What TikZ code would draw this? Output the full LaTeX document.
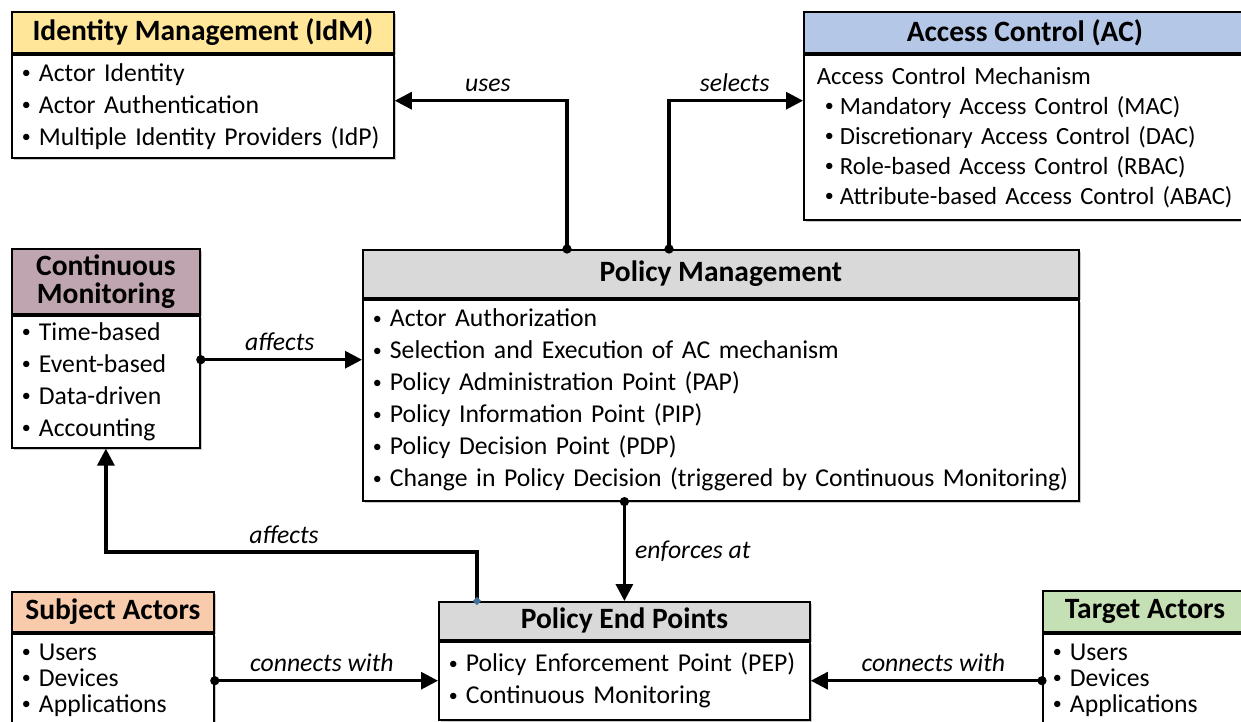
\documentclass[tikz,border=0pt]{standalone}
\usepackage{fontspec}
\setmainfont{Carlito}
\usetikzlibrary{arrows.meta,shadows,calc}

\definecolor{idmfill}{HTML}{FFE699}
\definecolor{acfill}{HTML}{B4C7E7}
\definecolor{cmfill}{HTML}{BFA5AF}
\definecolor{pmfill}{HTML}{D9D9D9}
\definecolor{safill}{HTML}{F8CBAD}
\definecolor{tafill}{HTML}{C5E0B4}
\definecolor{handle}{HTML}{41719C}

\newcommand\bodyfont{\fontsize{25.7}{32}\selectfont}
\newcommand\acfont{\fontsize{24.7}{30}\selectfont}
\newcommand\actorfont{\fontsize{25.7}{26}\selectfont}
\newcommand\titlefont{\fontsize{29.5}{28}\selectfont\bfseries}
\newcommand\smallbullet{\raisebox{2.6pt}{\fontsize{18}{18}\selectfont •}}
\newcommand\itembul[1]{\mbox{\makebox[18pt][l]{\hspace{1pt}\smallbullet}#1}}
\newcommand\acbul[1]{\mbox{\hspace*{8pt}\makebox[15pt][l]{\smallbullet}#1}}

\begin{document}
\begin{tikzpicture}[x=1pt,y=-1pt,
  boxshadow/.style={drop shadow={shadow xshift=2.5pt, shadow yshift=-2.5pt, opacity=0.35, fill=black!60}},
  boxtitle/.style={draw, line width=1.8pt, anchor=north west, inner sep=0pt,
    font=\titlefont, align=center, boxshadow},
  boxbody/.style={draw, line width=1.8pt, fill=white, anchor=north west,
    inner xsep=9pt, inner ysep=0pt, align=left, font=\bodyfont, boxshadow},
  conn/.style={line width=3.2pt, shorten <=-4.5pt,
    {Circle[length=9pt]}-{Triangle[length=17pt,width=17pt]}},
  lbl/.style={font=\bodyfont\itshape, inner sep=0pt},
]
\useasboundingbox (0,0) rectangle (1241,721);

% Identity Management
\node[boxtitle, fill=idmfill, minimum width=382pt, minimum height=41pt] (idmt) at (11,11)
  {Identity Management (IdM)};
\node[boxbody, text width=364pt, minimum height=103pt] (idmb) at (idmt.south west)
  {\itembul{Actor Identity}\\ \itembul{Actor Authentication}\\ \itembul{Multiple Identity Providers (IdP)}};

% Access Control
\node[boxtitle, fill=acfill, minimum width=442pt, minimum height=41pt] (act) at (803,11)
  {Access Control (AC)};
\node[boxbody, font=\acfont, inner xsep=13pt, text width=416pt, minimum height=165pt] (acb) at (act.south west)
  {Access Control Mechanism\\ \acbul{Mandatory Access Control (MAC)}\\ \acbul{Discretionary Access Control (DAC)}\\
   \acbul{Role-based Access Control (RBAC)}\\ \acbul{Attribute-based Access Control (ABAC)}};

% Continuous Monitoring
\node[boxtitle, fill=cmfill, minimum width=188pt, minimum height=65pt] (cmt) at (11,248)
  {Continuous\\Monitoring};
\node[boxbody, text width=170pt, minimum height=132pt] (cmb) at (cmt.south west)
  {\itembul{Time-based}\\ \itembul{Event-based}\\ \itembul{Data-driven}\\ \itembul{Accounting}};

% Policy Management
\node[boxtitle, fill=pmfill, minimum width=716pt, minimum height=48pt] (pmt) at (362,249)
  {Policy Management};
\node[boxbody, text width=698pt, minimum height=201pt] (pmb) at (pmt.south west)
  {\itembul{Actor Authorization}\\ \itembul{Selection and Execution of AC mechanism}\\
   \itembul{Policy Administration Point (PAP)}\\ \itembul{Policy Information Point (PIP)}\\
   \itembul{Policy Decision Point (PDP)}\\
   \itembul{Change in Policy Decision (triggered by Continuous Monitoring)}};

% Policy End Points
\node[boxtitle, fill=pmfill, minimum width=371pt, minimum height=38pt] (pept) at (438,601)
  {\raisebox{-2pt}{Policy End Points}};
\node[boxbody, text width=353pt, minimum height=78pt] (peb) at (pept.south west)
  {\itembul{Policy Enforcement Point (PEP)}\\ \itembul{Continuous Monitoring}};

% Subject Actors
\node[boxtitle, fill=safill, minimum width=202pt, minimum height=40pt] (sat) at (11,591)
  {Subject Actors};
\node[boxbody, font=\actorfont, text width=184pt, minimum height=93pt] (sab) at (sat.south west)
  {\itembul{Users}\\ \itembul{Devices}\\ \itembul{Applications}};

% Target Actors
\node[boxtitle, fill=tafill, minimum width=204pt, minimum height=41pt] (tat) at (1042,590)
  {Target Actors};
\node[boxbody, font=\actorfont, text width=186pt, minimum height=93pt] (tab) at (tat.south west)
  {\itembul{Users}\\ \itembul{Devices}\\ \itembul{Applications}};

% Connectors
\draw[conn] ([xshift=205pt]pmt.north west) |- node[lbl, above=7pt, pos=0.73]{uses}
  ([yshift=5.5pt]idmb.east);
\draw[conn] ([xshift=307pt]pmt.north west) |- node[lbl, above=7pt, pos=0.745]{selects}
  ([yshift=36.5pt]acb.west);
\coordinate (cmout) at ([yshift=22pt]cmb.east);
\draw[conn] (cmout) -- node[lbl, above=7pt, pos=0.49]{affects} (cmout -| pmb.west);
\draw[conn] (pmb.south -| pept.north) -- node[lbl, right=9pt]{enforces at} (pept.north);
\draw[line width=3.2pt, shorten <=-3.5pt,
    {Circle[length=7pt, fill=black, color=handle]}-{Triangle[length=17pt,width=17pt]}]
  ([xshift=39pt]pept.north west) -- ++(0,-49) -| node[lbl, above=7pt, pos=0.26]{affects} (cmb.south);
\draw[conn] (peb.west -| sab.east) -- node[lbl, above=7pt, pos=0.48]{connects with} (peb.west);
\draw[conn] (peb.east -| tab.west) -- node[lbl, above=7pt, pos=0.47]{connects with} (peb.east);
\end{tikzpicture}
\end{document}
